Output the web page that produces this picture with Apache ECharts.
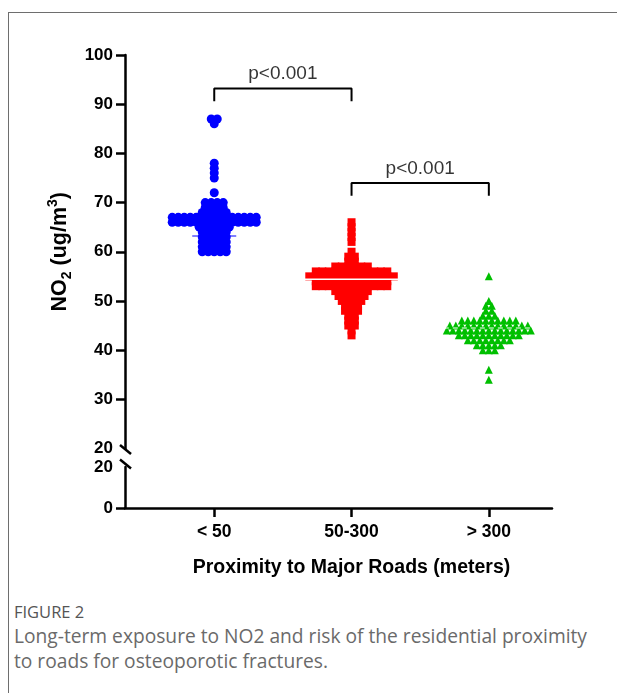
<!DOCTYPE html>
<html>
<head>
<meta charset="utf-8">
<script src="https://cdn.jsdelivr.net/npm/echarts@6/dist/echarts.min.js"></script>
<style>
html, body { margin: 0; padding: 0; background: #fff; }
#frame { position: absolute; left: 8px; top: 12px; width: 640px; height: 700px;
  border-left: 1px solid #6e6e6e; border-top: 1px solid #6e6e6e; }
#chart { position: absolute; left: 0; top: 0; width: 617px; height: 600px; }
.fig { position: absolute; left: 14px; top: 600px; font-family: "Open Sans", sans-serif;
  font-size: 16.5px; color: #555; }
.cap { position: absolute; left: 14px; top: 623px; width: 595px; font-family: "Open Sans", sans-serif;
  font-size: 19.2px; line-height: 25px; color: #6a6a6a; }
</style>
</head>
<body>
<div id="frame"></div>
<div id="chart"></div>
<div class="fig">FIGURE 2</div>
<div class="cap">Long-term exposure to NO2 and risk of the residential proximity to roads for osteoporotic fractures.</div>
<script>
// groups on the x axis
const categories = ['< 50', '50-300', '> 300'];

// NO2 values (rows of the dot plot) and how many dots sit on each row
const blueLevels = [60, 61, 62, 63, 64, 65, 66, 67, 68, 69, 70, 72, 75, 76, 77, 78, 86, 87];
const blueCounts = [5, 5, 5, 5, 5, 6, 15, 15, 5, 4, 4, 1, 1, 1, 1, 1, 1, 2];

const redLevels = [43, 44, 45, 46, 47, 48, 49, 50, 51, 52, 53, 54, 55, 56, 57, 58, 59, 60, 62, 63, 64, 65, 66];
const redCounts = [1, 1, 2, 2, 2, 3, 3, 4, 5, 6, 12, 12, 14, 12, 6, 2, 2, 1, 1, 1, 1, 1, 1];

const greenLevels = [34, 36, 40, 41, 42, 43, 44, 45, 46, 47, 48, 49, 50, 55];
const greenCounts = [1, 1, 3, 5, 8, 11, 15, 14, 10, 3, 2, 2, 1, 1];

// centre line drawn through each group
const centerLines = [63.2, 54.4, 44.5];

// significance brackets
const bracketFrom = [1, 2];
const bracketTo = [2, 3];
const bracketLevel = [93.2, 74.0];
const bracketLabels = ['p<0.001', 'p<0.001'];

// axis ticks
const upperTicks = [30, 40, 50, 60, 70, 80, 90, 100];
const lowerLabels = [0, 20];

const FONT = "'Liberation Sans', Arial, sans-serif";
const xMin = 0.35, xMax = 3.46;
const gridLeft = 125, gridWidth = 427;
const pxPerUnit = gridWidth / (xMax - xMin);

function swarm(g, levels, counts, stepPx) {
    const step = stepPx / pxPerUnit;
    const pts = [];
    levels.forEach((v, i) => {
        const n = counts[i];
        for (let k = 0; k < n; k++) {
            pts.push([g + (k - (n - 1) / 2) * step, v]);
        }
    });
    return pts;
}

const chart = echarts.init(document.getElementById('chart'));

const axisLine = { show: true, lineStyle: { color: '#000', width: 2.5 } };
const axisTick = { show: true, length: 9, lineStyle: { color: '#000', width: 2.5 } };
const labelStyle = { color: '#000', fontSize: 17, fontWeight: 'bold', fontFamily: FONT };

const bracketSeries = bracketFrom.map((a, i) => {
    const b = bracketTo[i], y = bracketLevel[i], d = 2.6;
    return {
        type: 'line', xAxisIndex: 0, yAxisIndex: 0, symbol: 'none', silent: true,
        lineStyle: { color: '#000', width: 2 },
        data: [[a, y - d], [a, y], [b, y], [b, y - d]], z: 5
    };
});

const bracketText = {
    type: 'scatter', xAxisIndex: 0, yAxisIndex: 0, symbolSize: 0, silent: true,
    data: bracketFrom.map((a, i) => [(a + bracketTo[i]) / 2, bracketLevel[i], bracketLabels[i]]),
    label: {
        show: true, position: 'top', distance: 5,
        formatter: p => p.data[2],
        color: '#000', fontSize: 19, fontFamily: FONT
    }
};

const lineStyles = [
    { color: '#0000ff', width: 1, half: 22 },
    { color: '#ffffff', width: 1.5, half: 47 },
    { color: '#ffffff', width: 1.2, half: 45, type: [5, 4] }
];
const centerSeries = centerLines.map((m, i) => {
    const s = lineStyles[i], h = s.half / pxPerUnit;
    return {
        type: 'line', xAxisIndex: 0, yAxisIndex: 0, symbol: 'none', silent: true, z: 4,
        lineStyle: { color: s.color, width: s.width, type: s.type || 'solid' },
        data: [[i + 1 - h, m], [i + 1 + h, m]]
    };
});

chart.setOption({
    animation: false,
    grid: [
        { left: gridLeft, width: gridWidth, top: 55, height: 393.5 },
        { left: gridLeft, width: gridWidth, top: 467, height: 41 }
    ],
    xAxis: [
        { gridIndex: 0, type: 'value', min: xMin, max: xMax, show: false },
        {
            gridIndex: 1, type: 'value', min: xMin, max: xMax,
            axisLine: axisLine,
            axisTick: { ...axisTick, customValues: [1, 2, 3] },
            axisLabel: { ...labelStyle, fontSize: 17.5, margin: 15, customValues: [1, 2, 3], formatter: v => categories[Math.round(v) - 1] || '' },
            splitLine: { show: false },
            name: 'Proximity to Major Roads (meters)',
            nameLocation: 'middle', nameGap: 50,
            nameTextStyle: { color: '#000', fontSize: 19.5, fontWeight: 'bold', fontFamily: FONT, padding: [0, 0, 0, 26] }
        }
    ],
    yAxis: [
        {
            gridIndex: 0, type: 'value', min: 20, max: 100, interval: 10,
            axisLine: axisLine,
            axisTick: { ...axisTick, customValues: upperTicks },
            axisLabel: { ...labelStyle, margin: 12 },
            splitLine: { show: false },
            name: '{b|NO}{s|2}{b| (ug/m}{p|3}{b|)}',
            nameLocation: 'middle', nameRotate: 90, nameGap: 50,
            nameTextStyle: {
                rich: {
                    b: { fontSize: 21.5, fontWeight: 'bold', fontFamily: FONT, color: '#000', lineHeight: 28 },
                    s: { fontSize: 14, fontWeight: 'bold', fontFamily: FONT, color: '#000', verticalAlign: 'bottom' },
                    p: { fontSize: 14, fontWeight: 'bold', fontFamily: FONT, color: '#000', verticalAlign: 'top' }
                }
            }
        },
        {
            gridIndex: 1, type: 'value', min: 0, max: 20, interval: 20,
            axisLine: axisLine,
            axisTick: { ...axisTick, customValues: [0] },
            axisLabel: { ...labelStyle, margin: 12, customValues: lowerLabels },
            splitLine: { show: false }
        }
    ],
    series: [
        {
            type: 'scatter', xAxisIndex: 0, yAxisIndex: 0, symbol: 'circle', symbolSize: 9,
            itemStyle: { color: '#0000ff', opacity: 1 }, data: swarm(1, blueLevels, blueCounts, 6)
        },
        {
            type: 'scatter', xAxisIndex: 0, yAxisIndex: 0, symbol: 'rect', symbolSize: 8,
            itemStyle: { color: '#ff0000', opacity: 1 }, data: swarm(2, redLevels, redCounts, 6.5)
        },
        {
            type: 'scatter', xAxisIndex: 0, yAxisIndex: 0, symbol: 'triangle', symbolSize: 8,
            itemStyle: { color: '#00bf00', opacity: 1 }, data: swarm(3, greenLevels, greenCounts, 6)
        },
        ...centerSeries,
        ...bracketSeries,
        bracketText
    ]
});

// axis break marks
const top20 = chart.convertToPixel({ gridIndex: 0 }, [xMin, 20]);
const low20 = chart.convertToPixel({ gridIndex: 1 }, [xMin, 20]);
const slash = (x, y) => ({
    type: 'line', silent: true, z: 100,
    shape: { x1: x - 5, y1: y - 4.5, x2: x + 6, y2: y + 4.5 },
    style: { stroke: '#000', lineWidth: 2.5 }
});
chart.setOption({
    graphic: [slash(top20[0], top20[1] + 1), slash(low20[0], low20[1] - 3)]
});
</script>
</body>
</html>
